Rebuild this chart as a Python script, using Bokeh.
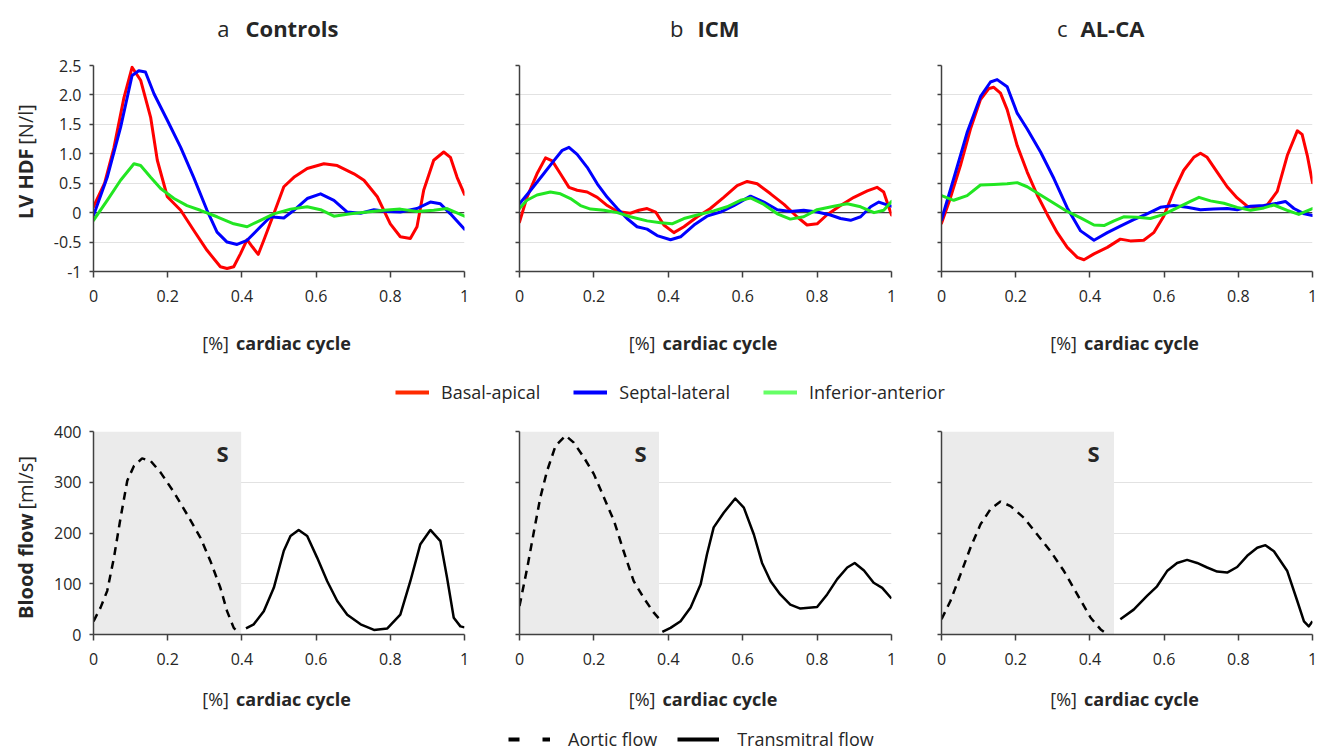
import math
from bokeh.plotting import figure
from bokeh.models import Label, Span, Legend, LegendItem, Range1d
from bokeh.layouts import column, row
from bokeh.embed import file_html
from bokeh.resources import INLINE

# ---------------- data ----------------
panel_prefix = ["a", "b", "c"]
panel_name = ["Controls", "ICM", "AL-CA"]
series_names = ["Basal-apical", "Septal-lateral", "Inferior-anterior"]
flow_names = ["Aortic flow", "Transmitral flow"]

x_ticks = [0, 0.2, 0.4, 0.6, 0.8, 1]
x_tick_labels = ["0", "0.2", "0.4", "0.6", "0.8", "1"]
hdf_ticks = [-1, -0.5, 0, 0.5, 1, 1.5, 2, 2.5]
hdf_tick_labels = ["-1", "-0.5", "0", "0.5", "1.0", "1.5", "2.0", "2.5"]
flow_ticks = [0, 100, 200, 300, 400]
flow_tick_labels = ["0", "100", "200", "300", "400"]

# Panel a (Controls) - LV HDF [N/l]
a_ba_x = [0, 0.03, 0.055, 0.082, 0.104, 0.127, 0.154, 0.172, 0.199, 0.235, 0.27, 0.306, 0.342, 0.36,
          0.378, 0.396, 0.414, 0.428, 0.444, 0.459, 0.486, 0.513, 0.54, 0.576, 0.621, 0.657, 0.702,
          0.729, 0.765, 0.80, 0.827, 0.854, 0.872, 0.89, 0.917, 0.944, 0.962, 0.98, 1.0]
a_ba_y = [0.1, 0.5, 1.1, 1.95, 2.47, 2.25, 1.62, 0.89, 0.27, 0.04, -0.30, -0.64, -0.92, -0.95,
          -0.92, -0.70, -0.46, -0.58, -0.71, -0.47, -0.02, 0.44, 0.60, 0.75, 0.83, 0.80, 0.66,
          0.55, 0.27, -0.19, -0.41, -0.44, -0.24, 0.38, 0.89, 1.03, 0.94, 0.60, 0.31]
a_sl_x = [0, 0.037, 0.073, 0.104, 0.122, 0.14, 0.163, 0.199, 0.235, 0.27, 0.306, 0.333, 0.36, 0.387,
          0.414, 0.45, 0.477, 0.513, 0.54, 0.576, 0.612, 0.648, 0.684, 0.72, 0.756, 0.792, 0.827,
          0.872, 0.908, 0.935, 0.962, 1.0]
a_sl_y = [-0.05, 0.6, 1.45, 2.33, 2.41, 2.39, 2.02, 1.57, 1.11, 0.6, 0.04, -0.33, -0.5, -0.54,
          -0.47, -0.24, -0.07, -0.09, 0.04, 0.24, 0.32, 0.21, 0.01, -0.01, 0.05, 0.02, 0.01,
          0.07, 0.18, 0.15, -0.02, -0.28]
a_ia_x = [0, 0.037, 0.073, 0.109, 0.127, 0.154, 0.181, 0.217, 0.252, 0.288, 0.333, 0.378, 0.414,
          0.45, 0.486, 0.531, 0.576, 0.612, 0.648, 0.693, 0.738, 0.783, 0.827, 0.872, 0.917, 0.953, 1.0]
a_ia_y = [-0.13, 0.21, 0.55, 0.83, 0.80, 0.6, 0.41, 0.24, 0.12, 0.04, -0.07, -0.19, -0.24,
          -0.13, -0.02, 0.06, 0.10, 0.05, -0.06, -0.02, 0.01, 0.04, 0.06, 0.02, 0.04, 0.07, -0.06]

# Panel b (ICM)
b_ba_x = [0, 0.02, 0.047, 0.07, 0.088, 0.11, 0.133, 0.155, 0.182, 0.209, 0.236, 0.263, 0.298, 0.321,
          0.343, 0.366, 0.388, 0.415, 0.442, 0.478, 0.513, 0.549, 0.585, 0.612, 0.639, 0.675, 0.711,
          0.746, 0.773, 0.8, 0.826, 0.863, 0.899, 0.935, 0.961, 0.979, 1.0]
b_ba_y = [-0.16, 0.26, 0.66, 0.93, 0.88, 0.66, 0.43, 0.38, 0.35, 0.26, 0.12, 0.02, -0.01, 0.04,
          0.07, 0.01, -0.21, -0.34, -0.24, -0.07, 0.07, 0.26, 0.46, 0.53, 0.49, 0.32, 0.14,
          -0.07, -0.21, -0.19, -0.04, 0.12, 0.26, 0.37, 0.43, 0.35, -0.04]
b_sl_x = [0, 0.03, 0.065, 0.092, 0.115, 0.133, 0.155, 0.182, 0.209, 0.236, 0.263, 0.289, 0.316, 0.343,
          0.37, 0.406, 0.433, 0.469, 0.504, 0.54, 0.576, 0.621, 0.657, 0.693, 0.728, 0.764, 0.8,
          0.836, 0.863, 0.89, 0.917, 0.944, 0.966, 0.984, 1.0]
b_sl_y = [0.15, 0.38, 0.66, 0.88, 1.06, 1.11, 0.99, 0.77, 0.49, 0.26, 0.07, -0.10, -0.24, -0.28,
          -0.39, -0.46, -0.41, -0.21, -0.06, 0.01, 0.12, 0.28, 0.18, 0.05, 0.02, 0.04, 0.01,
          -0.04, -0.10, -0.13, -0.07, 0.10, 0.18, 0.14, 0.11]
b_ia_x = [0, 0.02, 0.047, 0.083, 0.11, 0.137, 0.164, 0.191, 0.227, 0.263, 0.298, 0.343, 0.379, 0.41,
          0.442, 0.478, 0.522, 0.558, 0.594, 0.621, 0.657, 0.693, 0.728, 0.764, 0.8, 0.845, 0.881,
          0.917, 0.953, 0.979, 1.0]
b_ia_y = [0.07, 0.21, 0.30, 0.35, 0.32, 0.24, 0.12, 0.06, 0.04, 0.0, -0.07, -0.14, -0.17, -0.19,
          -0.10, -0.04, 0.03, 0.10, 0.21, 0.25, 0.14, -0.02, -0.11, -0.07, 0.05, 0.11, 0.15,
          0.10, 0.0, 0.04, 0.19]

# Panel c (AL-CA)
c_ba_x = [0, 0.024, 0.051, 0.078, 0.105, 0.128, 0.141, 0.159, 0.177, 0.204, 0.231, 0.258, 0.285, 0.312,
          0.339, 0.366, 0.384, 0.411, 0.447, 0.482, 0.509, 0.545, 0.572, 0.599, 0.626, 0.653, 0.68,
          0.698, 0.716, 0.743, 0.77, 0.797, 0.824, 0.851, 0.878, 0.905, 0.932, 0.959, 0.972, 0.986, 1.0]
c_ba_y = [-0.18, 0.25, 0.8, 1.42, 1.92, 2.11, 2.13, 2.03, 1.75, 1.14, 0.69, 0.30, -0.03, -0.34,
          -0.59, -0.76, -0.80, -0.70, -0.59, -0.45, -0.48, -0.47, -0.34, -0.06, 0.36, 0.72, 0.94,
          1.01, 0.94, 0.69, 0.44, 0.25, 0.11, 0.08, 0.13, 0.36, 0.97, 1.39, 1.33, 0.97, 0.51]
c_sl_x = [0, 0.033, 0.069, 0.105, 0.132, 0.15, 0.177, 0.204, 0.231, 0.267, 0.303, 0.339, 0.375, 0.411,
          0.447, 0.482, 0.518, 0.554, 0.59, 0.626, 0.662, 0.698, 0.734, 0.77, 0.797, 0.833, 0.869,
          0.905, 0.927, 0.95, 0.978, 1.0]
c_sl_y = [-0.12, 0.58, 1.36, 1.97, 2.22, 2.26, 2.14, 1.69, 1.42, 1.03, 0.58, 0.08, -0.31, -0.47,
          -0.34, -0.23, -0.12, -0.02, 0.09, 0.12, 0.09, 0.05, 0.06, 0.07, 0.05, 0.11, 0.12,
          0.16, 0.19, 0.07, -0.02, -0.05]
c_ia_x = [0, 0.033, 0.069, 0.105, 0.141, 0.177, 0.204, 0.231, 0.267, 0.303, 0.339, 0.375, 0.411, 0.438,
          0.465, 0.491, 0.527, 0.563, 0.599, 0.635, 0.671, 0.694, 0.725, 0.761, 0.797, 0.833, 0.869,
          0.896, 0.932, 0.963, 1.0]
c_ia_y = [0.29, 0.21, 0.29, 0.47, 0.48, 0.49, 0.51, 0.44, 0.30, 0.16, 0.02, -0.09, -0.21, -0.22,
          -0.14, -0.07, -0.08, -0.10, -0.03, 0.08, 0.19, 0.26, 0.20, 0.16, 0.09, 0.04, 0.08,
          0.13, 0.04, -0.03, 0.07]

# Blood flow [ml/s]
a_ao_x = [0, 0.019, 0.037, 0.055, 0.073, 0.091, 0.109, 0.131, 0.154, 0.181, 0.217, 0.252, 0.288, 0.315,
          0.342, 0.36, 0.378, 0.392]
a_ao_y = [26, 53, 86, 151, 230, 303, 332, 347, 342, 319, 280, 237, 191, 145, 92, 46, 13, 3]
a_tm_x = [0.411, 0.432, 0.459, 0.486, 0.513, 0.531, 0.553, 0.576, 0.603, 0.63, 0.657, 0.684, 0.72, 0.756,
          0.792, 0.827, 0.854, 0.881, 0.908, 0.935, 0.953, 0.971, 0.989, 1.0]
a_tm_y = [12, 20, 46, 92, 165, 194, 206, 194, 151, 105, 66, 39, 20, 9, 12, 39, 105, 178, 206, 184,
          112, 33, 16, 14]

b_ao_x = [0, 0.021, 0.039, 0.056, 0.074, 0.097, 0.124, 0.146, 0.173, 0.2, 0.227, 0.254, 0.28, 0.307,
          0.334, 0.361, 0.379]
b_ao_y = [56, 132, 204, 270, 322, 372, 392, 378, 349, 316, 270, 224, 164, 105, 72, 43, 28]
b_tm_x = [0.384, 0.406, 0.433, 0.46, 0.487, 0.504, 0.522, 0.549, 0.58, 0.603, 0.63, 0.652, 0.675, 0.701,
          0.728, 0.755, 0.8, 0.827, 0.854, 0.881, 0.901, 0.926, 0.952, 0.975, 1.0]
b_tm_y = [5, 13, 26, 53, 99, 158, 211, 240, 268, 250, 197, 141, 105, 79, 59, 51, 54, 79, 109, 132,
          141, 126, 102, 92, 71]

c_ao_x = [0, 0.024, 0.051, 0.078, 0.105, 0.132, 0.159, 0.186, 0.222, 0.258, 0.294, 0.33, 0.366, 0.402,
          0.429, 0.442]
c_ao_y = [30, 66, 118, 171, 217, 247, 262, 253, 230, 197, 164, 125, 79, 33, 10, 3]
c_tm_x = [0.482, 0.518, 0.554, 0.581, 0.608, 0.635, 0.662, 0.689, 0.716, 0.743, 0.77, 0.797, 0.824,
          0.851, 0.873, 0.896, 0.932, 0.959, 0.977, 0.99, 1.0]
c_tm_y = [30, 49, 76, 95, 125, 141, 147, 141, 132, 124, 122, 133, 155, 171, 176, 164, 125, 66, 26,
          16, 26]

systole_end = [0.398, 0.375, 0.465]

hdf_data = [
    [(a_ba_x, a_ba_y), (a_sl_x, a_sl_y), (a_ia_x, a_ia_y)],
    [(b_ba_x, b_ba_y), (b_sl_x, b_sl_y), (b_ia_x, b_ia_y)],
    [(c_ba_x, c_ba_y), (c_sl_x, c_sl_y), (c_ia_x, c_ia_y)],
]
flow_data = [
    [(a_ao_x, a_ao_y), (a_tm_x, a_tm_y)],
    [(b_ao_x, b_ao_y), (b_tm_x, b_tm_y)],
    [(c_ao_x, c_ao_y), (c_tm_x, c_tm_y)],
]

# ---------------- style / layout ----------------
FONT = "Open Sans"
TXT = "#262626"
AXC = "#404040"
GRID = "#e2e2e2"
SHADE = "#ebebeb"
COLORS = ["#ff0000", "#0000ff", "#22e622"]
NAN = float("nan")

W = 1318
YLAB_W = 45
FIG_W = [445, 426, 402]
FRAME_L = [93, 519, 941]      # page x of frame left
FRAME_W = [371, 372, 371]

STRIP_T_H = 45
ROW1_H, ROW1_TOP, ROW1_FRAME = 268, 20, 206
STRIP_M_H = 105
ROW2_H, ROW2_TOP, ROW2_FRAME = 260, 13, 203
STRIP_B_H = 73

ROW1_PAGE = STRIP_T_H                              # 45
STRIP_M_PAGE = ROW1_PAGE + ROW1_H                  # 313
ROW2_PAGE = STRIP_M_PAGE + STRIP_M_H               # 418
STRIP_B_PAGE = ROW2_PAGE + ROW2_H                  # 678

TITLE_Y = 27
TITLE_PRE_END = [229, 683, 1067]
TITLE_MAIN_START = [245, 697, 1080]
XTITLE_Y = [342, 698]
S_POS = [(222, 452), (640, 452), (1093, 452)]
YLAB_X = 25
YLAB1_SPLIT = 153
YLAB2_SPLIT = 523


def lab(p, x, y, text, size, bold=False, align="left", angle=0.0):
    p.add_layout(Label(x=x, y=y, text=text, text_font=FONT, text_font_size=size,
                       text_font_style="bold" if bold else "normal", text_color=TXT,
                       text_align=align, text_baseline="middle", angle=angle))


def strip(width, height):
    """Figure whose data coordinates equal its own pixel coordinates (y downwards)."""
    p = figure(width=width, height=height, x_range=Range1d(0, width), y_range=Range1d(height, 0),
               x_axis_type=None, y_axis_type=None, output_backend="svg",
               toolbar_location=None, min_border=0, outline_line_color=None)
    p.title.visible = False
    return p


def base_fig(i, height, top_b, frame_h, y0, y1, ticks, tick_labels, show_labels):
    left_b = FRAME_L[i] - YLAB_W - sum(FIG_W[:i])
    right_b = FIG_W[i] - left_b - FRAME_W[i]
    bottom_b = height - top_b - frame_h
    p = figure(width=FIG_W[i], height=height, x_range=Range1d(0, 1), y_range=Range1d(y0, y1),
               output_backend="svg", toolbar_location=None,
               min_border_left=left_b, min_border_right=right_b,
               min_border_top=top_b, min_border_bottom=bottom_b,
               outline_line_color=None)
    p.title.visible = False
    p.xgrid.visible = False
    p.ygrid.grid_line_color = GRID
    p.ygrid.grid_line_width = 1
    p.ygrid.ticker = ticks
    for ax in (p.xaxis[0], p.yaxis[0]):
        ax.axis_line_color = AXC
        ax.axis_line_width = 1.5
        ax.major_tick_line_color = AXC
        ax.major_tick_line_width = 1.5
        ax.major_tick_in = 0
        ax.minor_tick_line_color = None
        ax.major_label_text_font = FONT
        ax.major_label_text_font_size = "16px"
        ax.major_label_text_color = TXT
    p.xaxis.ticker = x_ticks
    p.xaxis.major_label_overrides = dict(zip(x_ticks, x_tick_labels))
    p.xaxis.major_tick_out = 6
    p.xaxis.major_label_standoff = 12
    p.yaxis.ticker = ticks
    p.yaxis.major_tick_out = 4
    p.yaxis.major_label_standoff = 8
    if show_labels:
        p.yaxis.major_label_overrides = dict(zip(ticks, tick_labels))
    else:
        p.yaxis.major_label_overrides = {t: "" for t in ticks}
    return p


# ---- titles strip ----
strip_t = strip(W, STRIP_T_H)
for i in range(3):
    lab(strip_t, TITLE_PRE_END[i], TITLE_Y, panel_prefix[i], "22px", bold=False, align="right")
    lab(strip_t, TITLE_MAIN_START[i], TITLE_Y, panel_name[i], "22px", bold=True, align="left")

# ---- row 1: LV HDF ----
ylab1 = strip(YLAB_W, ROW1_H)
lab(ylab1, YLAB_X, YLAB1_SPLIT - ROW1_PAGE, "LV HDF", "20px", bold=True, align="right",
    angle=math.pi / 2)
lab(ylab1, YLAB_X, YLAB1_SPLIT - 5 - ROW1_PAGE, "[N/l]", "20px", bold=False, align="left",
    angle=math.pi / 2)
top_figs = [ylab1]
for i in range(3):
    p = base_fig(i, ROW1_H, ROW1_TOP, ROW1_FRAME, -1, 2.5, hdf_ticks, hdf_tick_labels, i == 0)
    p.add_layout(Span(location=0, dimension="width", line_color=AXC, line_width=1.2, level="underlay"))
    for (xs, ys), col in zip(hdf_data[i], COLORS):
        p.line(xs, ys, line_color=col, line_width=3, line_join="round", line_cap="round")
    top_figs.append(p)


def x_titles(p, page_y, strip_page):
    for i in range(3):
        c = FRAME_L[i] + FRAME_W[i] / 2
        lab(p, c - 50, page_y - strip_page, "[%]", "18px", bold=False, align="right")
        lab(p, c - 43, page_y - strip_page, "cardiac cycle", "18px", bold=True, align="left")


def add_legend(p, names, colors, dashes, loc, glyph_w, standoff, spacing):
    items = []
    for name, col, dash in zip(names, colors, dashes):
        r = p.line(x=[NAN, NAN], y=[NAN, NAN], line_color=col, line_width=4, line_dash=dash)
        items.append(LegendItem(label=name, renderers=[r]))
    leg = Legend(items=items, location=loc, orientation="horizontal",
                 glyph_width=glyph_w, glyph_height=20, label_standoff=standoff,
                 spacing=spacing, padding=0, margin=0, border_line_alpha=0,
                 background_fill_alpha=0, label_text_font=FONT,
                 label_text_font_size="18px", label_text_color=TXT)
    p.add_layout(leg)


# ---- middle strip: x titles + series legend ----
strip_m = strip(W, STRIP_M_H)
x_titles(strip_m, XTITLE_Y[0], STRIP_M_PAGE)
add_legend(strip_m, series_names, ["#ff2a00", "#0000ff", "#66ff66"], ["solid", "solid", "solid"],
           (395, 14), 34, 12, 33)

# ---- row 2: blood flow ----
ylab2 = strip(YLAB_W, ROW2_H)
lab(ylab2, YLAB_X, YLAB2_SPLIT - ROW2_PAGE, "Blood flow", "20px", bold=True, align="right",
    angle=math.pi / 2)
lab(ylab2, YLAB_X, YLAB2_SPLIT - 5 - ROW2_PAGE, "[ml/s]", "20px", bold=False, align="left",
    angle=math.pi / 2)
bot_figs = [ylab2]
for i in range(3):
    p = base_fig(i, ROW2_H, ROW2_TOP, ROW2_FRAME, 0, 400, flow_ticks, flow_tick_labels, i == 0)
    p.quad(left=[0], right=[systole_end[i]], bottom=[flow_ticks[0]], top=[flow_ticks[-1]],
           fill_color=SHADE, line_color=None)
    (ax_, ay_), (tx_, ty_) = flow_data[i]
    p.line(ax_, ay_, line_color="black", line_width=2.5, line_dash="8 6")
    p.line(tx_, ty_, line_color="black", line_width=2.5, line_join="round")
    sx_page, sy_page = S_POS[i]
    sx = (sx_page - FRAME_L[i]) / FRAME_W[i]
    frame_top_page = ROW2_PAGE + ROW2_TOP
    sy = 400 - (sy_page - frame_top_page) / ROW2_FRAME * 400
    lab(p, sx, sy, "S", "22px", bold=True, align="center")
    bot_figs.append(p)

# ---- bottom strip: x titles + flow legend ----
strip_b = strip(W, STRIP_B_H)
x_titles(strip_b, XTITLE_Y[1], STRIP_B_PAGE)
add_legend(strip_b, flow_names, ["black", "black"], ["11 23", "solid"], (508, 0), 42, 18, 20)

layout = column(strip_t, row(*top_figs), strip_m, row(*bot_figs), strip_b)

open("out.html", "w").write(file_html(layout, INLINE))
